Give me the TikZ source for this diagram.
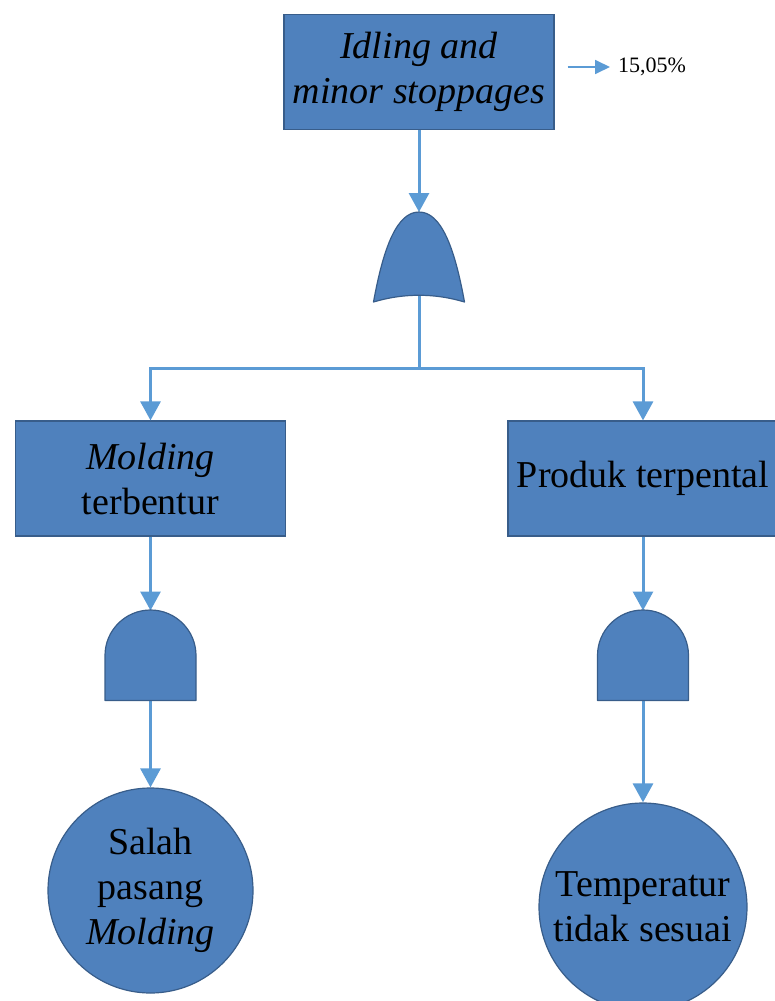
\documentclass[tikz,border=0pt]{standalone}
\usepackage{fontspec}
\setmainfont{Liberation Serif}
\usetikzlibrary{arrows.meta}
\definecolor{gatefill}{RGB}{79,129,189}
\definecolor{gateline}{RGB}{56,93,138}
\definecolor{linkblue}{RGB}{91,155,213}
\tikzstyle{block} = [rectangle, minimum width=270pt, minimum height=115pt, inner sep=0pt, align=center, draw=gateline, line width=1.2pt, fill=gatefill, font=\fontsize{38}{45}\selectfont]
\tikzstyle{event} = [circle, inner sep=0pt, align=center, draw=gateline, line width=1.2pt, fill=gatefill, font=\fontsize{38}{45}\selectfont]
\tikzstyle{gate} = [rectangle, minimum width=91pt, minimum height=90pt, inner sep=0pt, outer sep=0pt]
\tikzstyle{gateshape} = [draw=gateline, line width=1.2pt, fill=gatefill, line join=round]
\tikzstyle{link} = [draw=linkblue, line width=3pt]
\tikzstyle{arrow} = [link, -{Triangle[width=20pt,length=19pt]}]
\tikzstyle{smallarrow} = [draw=linkblue, line width=1.8pt, -{Triangle[width=14pt,length=15pt]}]

\begin{document}
\begin{tikzpicture}[x=1pt, y=-1pt]
    \useasboundingbox (0,0) rectangle (775,1001);

    \node (idling) [block] at (419,72) {\textit{Idling and}\\\textit{minor stoppages}};
    \node (pct) [anchor=west, inner sep=4pt, font=\fontsize{22}{26}\selectfont] at (614,67) {15,05\%};

    \node (orgate) [gate] at (419,257) {};
    \coordinate (split) at (419,368);

    \node (molding) [block] at (150.5,478.5) {\textit{Molding}\\terbentur};
    \node (produk) [block] at (643,478.5) {Produk terpental};

    \node (andL) [gate] at (150.5,655.5) {};
    \node (andR) [gate] at (643,655.5) {};

    \node (salah) [event, minimum size=205pt] at (150.5,890.5) {Salah\\pasang\\\textit{Molding}};
    \node (temp) [event, minimum size=208pt] at (643,907) {Temperatur\\tidak sesuai};

    \draw [smallarrow, shorten >=4pt] ([xshift=13pt, yshift=5pt]idling.east) -- (pct.west);
    \draw [arrow] (idling.south) -- (orgate.north);
    \draw [link] (orgate.center) -- (split);
    \draw [arrow] (split) -| (molding.north);
    \draw [arrow] (split) -| (produk.north);
    \draw [arrow] (molding.south) -- (andL.north);
    \draw [arrow] (produk.south) -- (andR.north);
    \draw [arrow] (andL.center) -- (salah.north);
    \draw [arrow] (andR.center) -- (temp.north);

    \draw [gateshape] (orgate.south west) .. controls +(10,-55) and +(-22,0) .. (orgate.north)
        .. controls +(22,0) and +(-10,-55) .. (orgate.south east)
        .. controls +(-30,-9) and +(30,-9) .. (orgate.south west) -- cycle;
    \draw [gateshape] (andL.south west) -- ++(0,-45) arc[start angle=180, end angle=0, radius=45.5pt] -- (andL.south east) -- cycle;
    \draw [gateshape] (andR.south west) -- ++(0,-45) arc[start angle=180, end angle=0, radius=45.5pt] -- (andR.south east) -- cycle;
\end{tikzpicture}
\end{document}
